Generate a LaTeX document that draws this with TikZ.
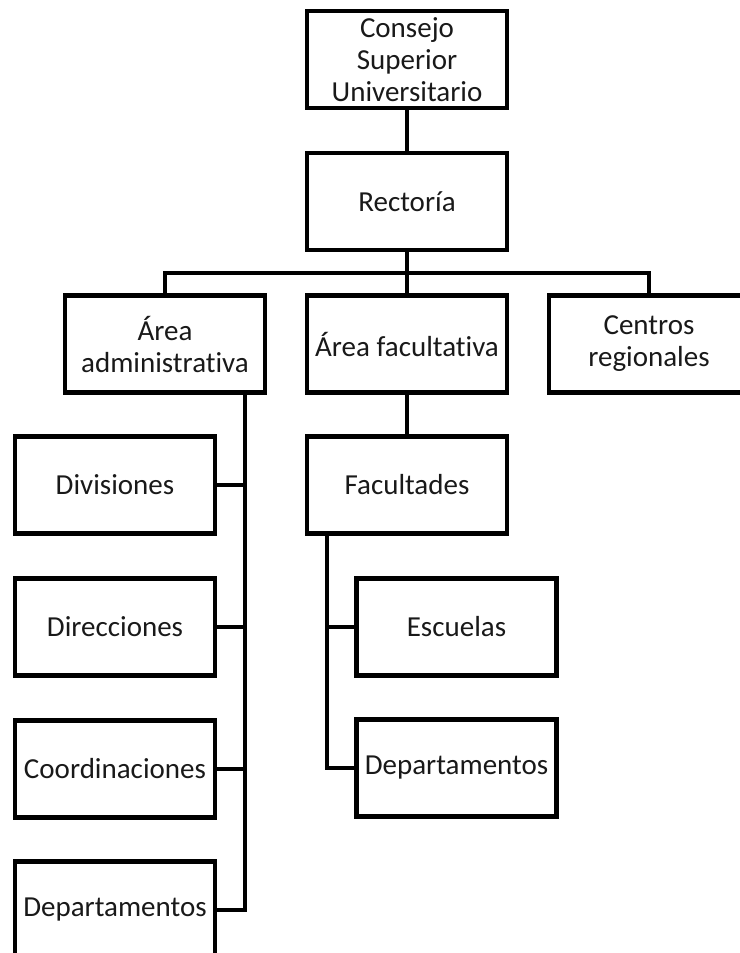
\documentclass[tikz,border=0pt]{standalone}
\usepackage{fontspec}
\setmainfont{Carlito}[Ligatures={NoCommon}]
\begin{document}
\begin{tikzpicture}[x=1pt,y=1pt,
  unit/.style={draw, line width=4.5pt, minimum width=200pt, minimum height=97pt,
    inner sep=0pt, align=center, font=\fontsize{29}{32}\selectfont, text=black!90},
  link/.style={line width=4.2pt}]
\useasboundingbox (0,0) rectangle (739,-953);

% top of the hierarchy
\node[unit] (csu)  at (407,-59.5) {Consejo\\Superior\\Universitario};
\node[unit] (rect) at (407,-201.5) {Rectoría};

% second level
\node[unit] (adm) at (165,-344) {Área\\administrativa};
\node[unit] (fac) at (407,-344) {Área facultativa};
\node[unit] (cen) at (649,-344) {Centros\\regionales};

% administrative branch
\node[unit] (div)  at (115,-485) {Divisiones};
\node[unit] (dir)  at (115,-627) {Direcciones};
\node[unit] (coo)  at (115,-769) {Coordinaciones};
\node[unit] (dep1) at (115,-910) {Departamentos};

% academic branch
\node[unit] (facu) at (407,-485) {Facultades};
\node[unit] (esc)  at (456.5,-627) {Escuelas};
\node[unit] (dep2) at (456.5,-768) {Departamentos};

% connectors
\coordinate (bus) at (407,-273);
\draw[link] (csu.south) -- (rect.north);
\draw[link] (rect.south) -- (fac.north);
\draw[link] (adm.north) |- (bus) -| (cen.north);

\coordinate (aspine) at (245,-393);
\draw[link] (aspine) |- (dep1.east);
\draw[link] (div.east) -- (div.east -| aspine);
\draw[link] (dir.east) -- (dir.east -| aspine);
\draw[link] (coo.east) -- (coo.east -| aspine);

\draw[link] (fac.south) -- (facu.north);
\coordinate (fspine) at (327,-533);
\draw[link] (fspine) |- (dep2.west);
\draw[link] (esc.west) -- (esc.west -| fspine);
\end{tikzpicture}
\end{document}
